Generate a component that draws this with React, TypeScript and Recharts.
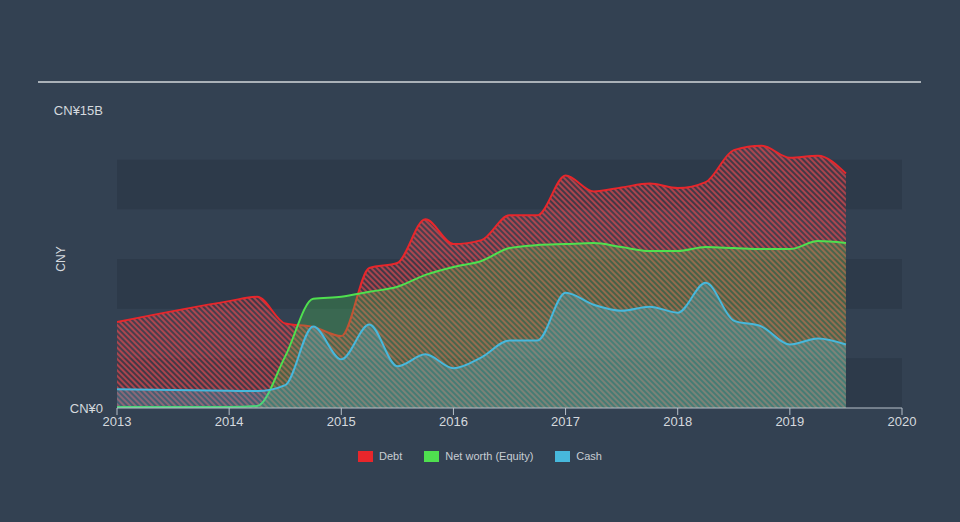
import { Area, AreaChart, ReferenceArea, XAxis, YAxis } from 'recharts';

// Zeitpunkte (Jahresbruchteile) und Werte in Mrd. CNY
const periods = [
    2013, 2014, 2014.25, 2014.5, 2014.75, 2015, 2015.25, 2015.5, 2015.75, 2016, 2016.25, 2016.5,
    2016.75, 2017, 2017.25, 2017.5, 2017.75, 2018, 2018.25, 2018.5, 2018.75, 2019, 2019.25, 2019.5,
];
const debt = [
    4.33, 5.38, 5.6, 4.25, 4.08, 3.62, 7.05, 7.3, 9.5, 8.25, 8.45, 9.7, 9.7, 11.7, 10.9, 11.1, 11.3,
    11.07, 11.37, 12.98, 13.2, 12.6, 12.7, 11.8,
];
const equity = [
    0.05, 0.05, 0.1, 2.6, 5.5, 5.6, 5.85, 6.1, 6.7, 7.1, 7.4, 8.05, 8.2, 8.25, 8.3, 8.1, 7.9, 7.9, 8.1,
    8.05, 8.0, 8.0, 8.4, 8.3,
];
const cash = [
    0.95, 0.87, 0.85, 1.15, 4.1, 2.45, 4.2, 2.1, 2.7, 2.0, 2.55, 3.4, 3.4, 5.8, 5.2, 4.9, 5.1, 4.8, 6.3,
    4.4, 4.1, 3.2, 3.5, 3.2,
];
const yearTicks = [2013, 2014, 2015, 2016, 2017, 2018, 2019, 2020];
const valueTicks = [0, 15];
const bands = [
    [0, 2.5],
    [5, 7.5],
    [10, 12.5],
];

const series = [
    { key: 'debt', name: 'Debt', color: '#e8262b' },
    { key: 'equity', name: 'Net worth (Equity)', color: '#4fe04f' },
    { key: 'cash', name: 'Cash', color: '#47b8dc' },
];

const rows = periods.map((t, i) => ({ t, debt: debt[i], equity: equity[i], cash: cash[i] }));

const FONT = '"Liberation Sans", Arial, sans-serif';
const BG = '#334152';
const BAND = '#2d3a4a';

function LegendRow() {
    return (
        <div
            style={{
                position: 'absolute',
                top: 450,
                left: 0,
                width: 960,
                display: 'flex',
                justifyContent: 'center',
                alignItems: 'center',
                fontFamily: FONT,
                fontSize: 11,
                color: '#c8cdd3',
            }}
        >
            {series.map((s) => (
                <div key={s.key} style={{ display: 'flex', alignItems: 'center', margin: '0 11px' }}>
                    <span style={{ width: 15, height: 11, background: s.color, display: 'inline-block', marginRight: 6 }} />
                    <span>{s.name}</span>
                </div>
            ))}
        </div>
    );
}

export default function App() {
    return (
        <div style={{ position: 'fixed', left: 0, top: 0, width: 960, height: 522, background: BG, overflow: 'hidden' }}>
            <div style={{ position: 'absolute', left: 38, top: 81, width: 883, height: 2, background: '#aab1b8' }} />
            <AreaChart width={960} height={522} data={rows} margin={{ top: 110, right: 58, bottom: 84, left: 0 }}>
                <defs>
                    <pattern id="debtHatch" patternUnits="userSpaceOnUse" width="4" height="4" patternTransform="rotate(-45)">
                        <rect x="0" y="0" width="4" height="4" fill="#e8262b" fillOpacity="0.12" />
                        <rect x="0" y="0" width="2" height="4" fill="#e04a50" fillOpacity="0.65" />
                    </pattern>
                </defs>
                <XAxis
                    dataKey="t"
                    type="number"
                    domain={[2013, 2020]}
                    ticks={yearTicks}
                    allowDataOverflow
                    height={30}
                    stroke="#b8c1ca"
                    tickSize={7}
                    tickMargin={2}
                    tick={{ fontSize: 13, fill: '#d5d9de', fontFamily: FONT }}
                />
                <YAxis
                    type="number"
                    domain={[0, 15]}
                    ticks={valueTicks}
                    width={117}
                    axisLine={false}
                    tickLine={false}
                    tickMargin={8}
                    tickFormatter={(v: number) => (v === 0 ? 'CN¥0' : `CN¥${v}B`)}
                    tick={{ fontSize: 13, fill: '#d5d9de', fontFamily: FONT }}
                    label={{
                        value: 'CNY',
                        angle: -90,
                        position: 'insideLeft',
                        offset: 61,
                        style: { textAnchor: 'middle', fontSize: 12, fill: '#d5d9de', fontFamily: FONT },
                    }}
                />
                {bands.map(([a, b]) => (
                    <ReferenceArea key={a} y1={a} y2={b} fill={BAND} fillOpacity={1} stroke="none" zIndex={-50} ifOverflow="hidden" />
                ))}
                <Area type="monotone" dataKey="debt" name="Debt" stroke="#e8262b" strokeWidth={2} fill="url(#debtHatch)" fillOpacity={1} isAnimationActive={false} dot={false} activeDot={false} />
                <Area type="monotone" dataKey="equity" name="Net worth (Equity)" stroke="#4fe04f" strokeWidth={2} fill="#4fe04f" fillOpacity={0.25} isAnimationActive={false} dot={false} activeDot={false} />
                <Area type="monotone" dataKey="cash" name="Cash" stroke="#47b8dc" strokeWidth={2} fill="#47b8dc" fillOpacity={0.3} isAnimationActive={false} dot={false} activeDot={false} />
            </AreaChart>
            <LegendRow />
        </div>
    );
}
